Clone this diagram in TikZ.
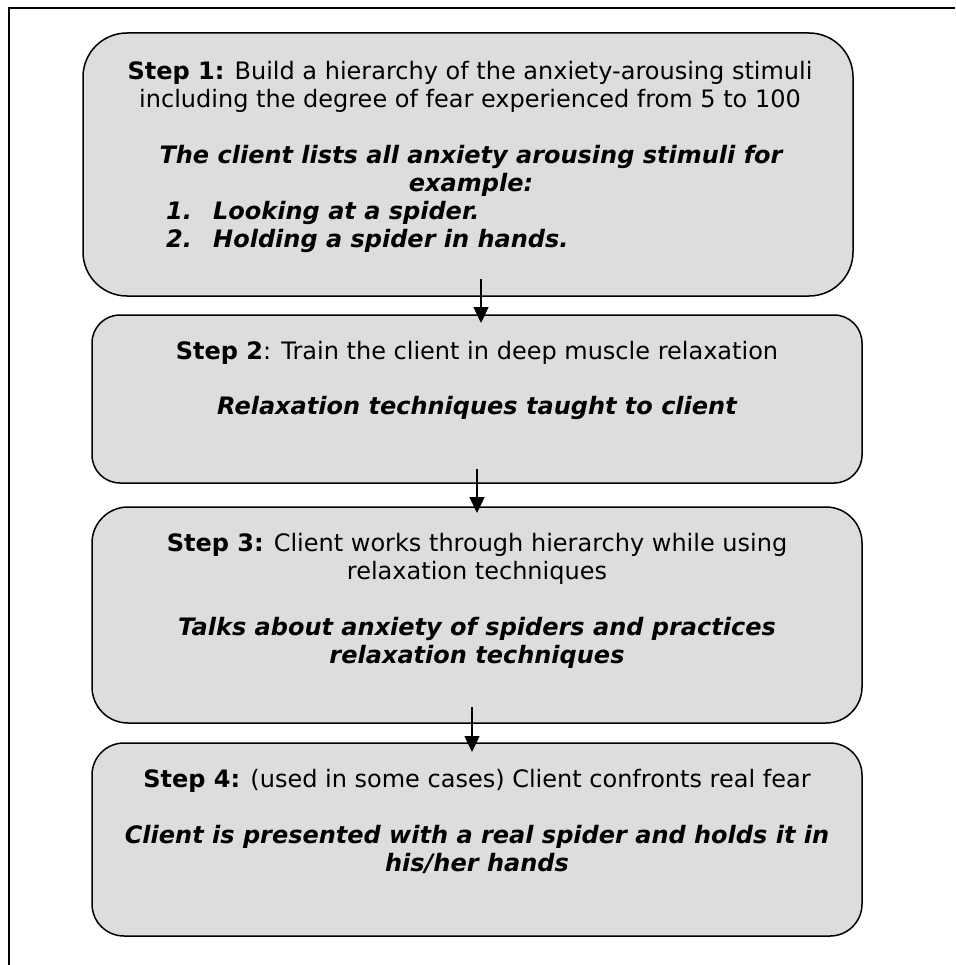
\documentclass[tikz,border=0pt]{standalone}
\usepackage{fontspec}
\setmainfont{DejaVu Sans}
\usetikzlibrary{arrows.meta,calc}
\definecolor{boxgray}{RGB}{221,221,221}
\begin{document}
\begin{tikzpicture}[x=1pt,y=-1pt,
  stepbox/.style={draw=black, line width=1.5pt, fill=boxgray, rounded corners=#1,
    inner sep=0pt, outer sep=0pt, anchor=north west, minimum width=770pt},
  txt/.style={inner sep=0pt, font=\fontsize{24}{28}\selectfont, anchor=base},
  ltxt/.style={txt, anchor=base west},
  bi/.style={font=\fontsize{24}{28}\selectfont\bfseries\itshape},
  arr/.style={-{Triangle[length=16pt,width=15pt]}, line width=1.4pt}]
\useasboundingbox (0,0) rectangle (955,965);
\draw[line width=1.4pt] (9,965) -- (9,8) -- (955,8);

% boxes
\node[stepbox=44pt, minimum height=263pt] (s1) at (83,33) {};
\node[stepbox=28pt, minimum height=168pt] (s2) at (92,315) {};
\node[stepbox=36pt, minimum height=216pt] (s3) at (92,507) {};
\node[stepbox=32pt, minimum height=193pt] (s4) at (92,743) {};

% box 1 text
\node[txt] (s1a) at (470,80) {\textbf{Step 1:} Build a hierarchy of the anxiety-arousing stimuli};
\node[txt] (s1b) at (470,108) {including the degree of fear experienced from 5 to 100};
\node[txt,bi] (s1c) at (471,164) {The client lists all anxiety arousing stimuli for};
\node[txt,bi] (s1d) at (471,192) {example:};
\node[ltxt,bi] (s1e) at (166,220) {1.};
\node[ltxt,bi] (s1f) at (213,220) {Looking at a spider.};
\node[ltxt,bi] (s1g) at (166,248) {2.};
\node[ltxt,bi] (s1h) at (213,248) {Holding a spider in hands.};

% box 2 text
\node[txt] (s2a) at (477,359) {\textbf{Step 2}: Train the client in deep muscle relaxation};
\node[txt,bi] (s2b) at (477,414) {Relaxation techniques taught to client};

% box 3 text
\node[txt] (s3a) at (477,551) {\textbf{Step 3:} Client works through hierarchy while using};
\node[txt] (s3b) at (477,579) {relaxation techniques};
\node[txt,bi] (s3c) at (477,635) {Talks about anxiety of spiders and practices};
\node[txt,bi] (s3d) at (477,663) {relaxation techniques};

% box 4 text
\node[txt] (s4a) at (477,787) {\textbf{Step 4:} (used in some cases) Client confronts real fear};
\node[txt,bi] (s4b) at (477,843) {Client is presented with a real spider and holds it in};
\node[txt,bi] (s4c) at (477,871) {his/her hands};

% arrows
\draw[arr] ($(s1.south)+(13,-17)$) -- ($(s2.north)+(4,8)$);
\draw[arr] ($(s2.south)+(0,-14)$) -- ($(s3.north)+(0,6)$);
\draw[arr] ($(s3.south)+(-5,-16)$) -- ($(s4.north)+(-5,9)$);
\end{tikzpicture}
\end{document}
